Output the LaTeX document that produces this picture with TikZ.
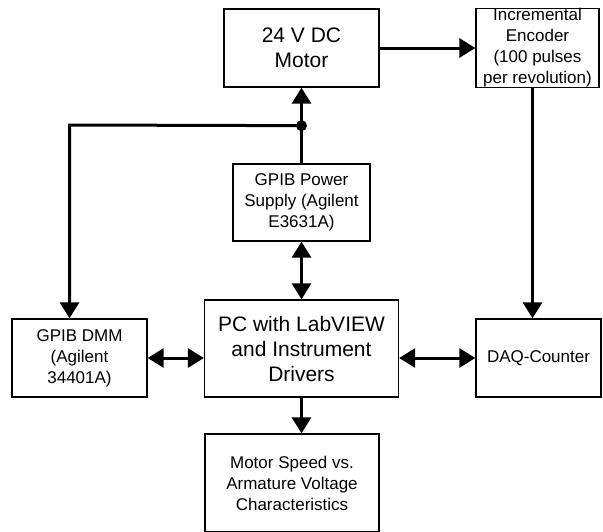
\documentclass[tikz,border=0pt]{standalone}
\usepackage{fontspec}
\setmainfont{Liberation Sans}
\usetikzlibrary{arrows.meta,positioning,calc}
\newcommand\blkfont{\fontsize{17}{21}\selectfont}
\newcommand\bigblkfont{\fontsize{21}{25}\selectfont}
\tikzset{
  blkbox/.style ={draw, line width=1.3pt, align=center, font=\blkfont,
                  inner sep=2pt, minimum width=#1, minimum height=78pt},
  blkbox/.default=135pt,
  bigbox/.style ={blkbox=#1, font=\bigblkfont},
  arr/.style    ={-{Triangle[length=16pt,width=19pt]}, line width=3pt},
  darr/.style   ={{Triangle[length=16pt,width=19pt]}-{Triangle[length=16pt,width=19pt]},
                  line width=3pt},
}
\begin{document}
\begin{tikzpicture}[x=1pt,y=-1pt]
  \useasboundingbox (0,0) rectangle (603,531);
  %% blocks
  \node[bigbox=155pt] (motor) at (301.5,48) {24 V DC\\Motor};
  \node[blkbox=123pt, inner ysep=0pt] (enc) at (537.5,48)
       {Incremental\\Encoder\\(100 pulses\\per revolution)};
  \node[blkbox=137pt, minimum height=77pt] (psu) at (301.5,202.5)
       {GPIB Power\\Supply (Agilent\\E3631A)};
  \node[blkbox] (dmm) at (79.5,358) {GPIB DMM\\(Agilent\\34401A)};
  \node[bigbox=194pt, minimum height=97pt] (pc) at (301.5,348.5)
       {PC with LabVIEW\\and Instrument\\Drivers};
  \node[blkbox=125pt] (daq) at (538.5,358) {DAQ-Counter};
  \node[blkbox=174pt, minimum height=98pt] (res) at (292,483)
       {Motor Speed vs.\\Armature Voltage\\Characteristics};
  %% connectors
  \coordinate (junc) at ([yshift=-38pt]motor.south);
  \coordinate (corner) at (69.5,125);
  \draw[arr] (motor.east) -- (enc.west);
  \draw[arr] (psu.north) -- (motor.south);
  \fill (junc) circle (5.5pt);
  \draw[arr] (junc) -- (corner) -- (corner |- dmm.north);
  \draw[darr] (psu.south) -- (pc.north);
  \draw[darr] (dmm.east) -- (dmm.east -| pc.west);
  \draw[darr] (daq.west -| pc.east) -- (daq.west);
  \draw[arr] ([xshift=-5pt]enc.south) -- ([xshift=-5pt]enc.south |- daq.north);
  \draw[arr] (pc.south) -- (pc.south |- res.north);
\end{tikzpicture}
\end{document}
